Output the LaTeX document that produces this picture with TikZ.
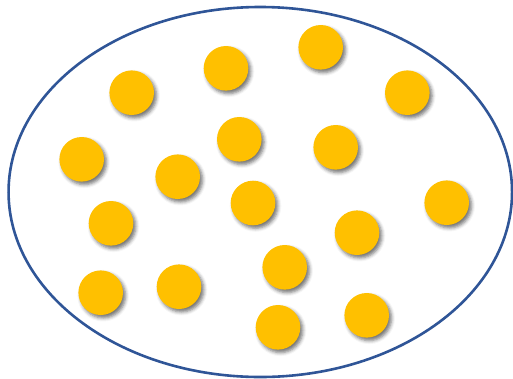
\documentclass[tikz,border=0pt]{standalone}
\usetikzlibrary{shadows.blur,shapes.geometric}
\definecolor{ringblue}{HTML}{2F5597}
\definecolor{dotgold}{HTML}{FFC000}
\begin{document}
\begin{tikzpicture}[x=1pt,y=-1pt,
  dot/.style={circle,fill=dotgold,minimum size=44.6pt,inner sep=0pt,
    blur shadow={shadow xshift=2.5pt,shadow yshift=-3pt,shadow blur radius=3.5pt,shadow opacity=55}},
  ring/.style={draw=ringblue,line width=2.6pt}]
\useasboundingbox (0,0) rectangle (513,378);
\node[ring,ellipse,minimum width=503.5pt,minimum height=370pt,inner sep=0pt] (ring) at (260.3,192) {};
\node[dot] (d1) at (131.7,92.7) {};
\node[dot] (d2) at (226,68.3) {};
\node[dot] (d3) at (320.7,47.3) {};
\node[dot] (d4) at (407.3,92.7) {};
\node[dot] (d5) at (81.7,159.3) {};
\node[dot] (d6) at (239.3,139.3) {};
\node[dot] (d7) at (335.7,147.3) {};
\node[dot] (d8) at (177.7,176.7) {};
\node[dot] (d9) at (253,203) {};
\node[dot] (d10) at (446.7,202.7) {};
\node[dot] (d11) at (111,223.3) {};
\node[dot] (d12) at (357,232.7) {};
\node[dot] (d13) at (284.7,267.3) {};
\node[dot] (d14) at (100.7,292.7) {};
\node[dot] (d15) at (179,286.7) {};
\node[dot] (d16) at (278,327.3) {};
\node[dot] (d17) at (366.7,315.3) {};
\end{tikzpicture}
\end{document}
